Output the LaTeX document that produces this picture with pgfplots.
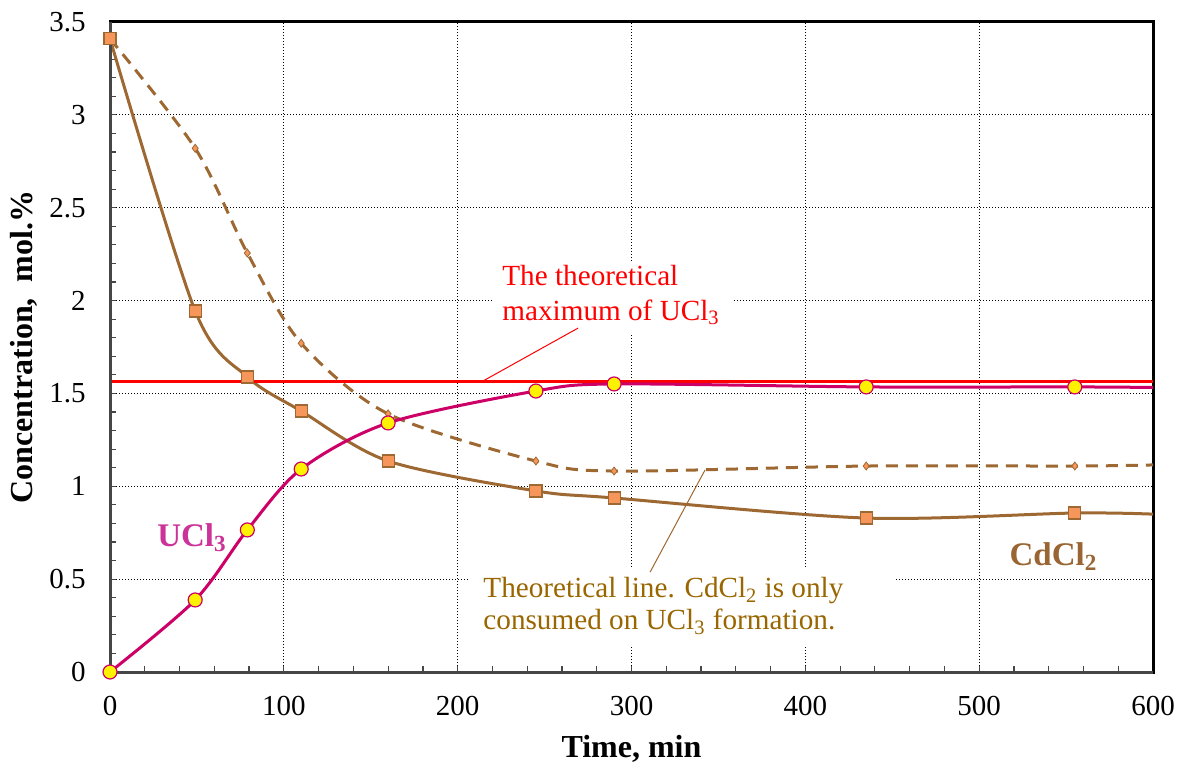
\documentclass[border=0pt]{standalone}
\usepackage{pgfplots}
\pgfplotsset{compat=1.18}
\usepackage{fontspec}
\setmainfont{Liberation Serif}
\definecolor{brn}{RGB}{158,104,50}
\definecolor{sqfill}{RGB}{247,150,90}
\definecolor{mag}{RGB}{204,0,102}
\definecolor{maglab}{RGB}{204,51,153}
\definecolor{gold}{RGB}{153,102,0}
\definecolor{cdlab}{RGB}{153,102,51}
\definecolor{axgray}{RGB}{70,70,70}
\begin{document}
\begin{tikzpicture}
\begin{axis}[
  width=521.5pt, height=325pt, scale only axis,
  xmin=0, xmax=600, ymin=0, ymax=3.5,
  xtick={0,100,...,600}, ytick={0,0.5,...,3.5},
  minor x tick num=4, minor y tick num=4,
  xtick pos=bottom, ytick pos=left,
  tick align=inside,
  major tick length=3pt, minor tick length=3pt,
  every tick/.style={axgray, line width=0.6pt},
  grid=major,
  major grid style={black, line width=0.5pt, dash pattern=on 0.6pt off 0.9pt},
  axis line style={black, line width=1.5pt},
  /pgf/number format/assume math mode=true,
  ticklabel style={font=\fontsize{14.5}{16}\selectfont},
  xticklabel style={yshift=-8.5pt},
  yticklabel style={xshift=-8.6pt},
  xlabel={Time, min},
  ylabel={Concentration,\ \ mol.\%},
  every axis x label/.style={at={([yshift=-42.5pt]rel axis cs:0.5,0)}, anchor=base,
    font=\fontsize{16}{18}\selectfont\bfseries},
  every axis y label/.style={at={([xshift=-38.5pt]rel axis cs:0,0.5)}, rotate=90, anchor=base,
    font=\fontsize{16}{18}\selectfont\bfseries},
  clip=false,
]
% dashed theoretical line
\addplot[brn, line width=1.5pt, dash pattern=on 6pt off 4pt, smooth, tension=0.5,
  mark=diamond*, mark indices={1,2,3,4,5,6,7,8,9},
  mark options={solid, fill=sqfill, draw=brn, line width=0.4pt, mark size=2pt}]
  coordinates {(0,3.41) (49,2.82) (79,2.256) (110,1.77) (160,1.39) (245,1.136) (290,1.082) (435,1.109) (555,1.109) (600,1.115)};
% CdCl2
\addplot[brn, line width=1.5pt, smooth, tension=0.5,
  mark=square*, mark indices={1,2,3,4,5,6,7,8,9},
  mark options={solid, fill=sqfill, draw=brn, line width=0.6pt, mark size=3pt}]
  coordinates {(0,3.41) (49,1.944) (79,1.589) (110,1.405) (160,1.136) (245,0.975) (290,0.937) (435,0.829) (555,0.856) (600,0.85)};
% theoretical maximum
\addplot[red, line width=1.5pt] coordinates {(0,1.562) (600,1.562)};
% UCl3
\addplot[mag, line width=1.5pt, smooth, tension=0.5,
  mark=*, mark indices={1,2,3,4,5,6,7,8,9},
  mark options={solid, fill=yellow, draw=mag, line width=0.6pt, mark size=3.5pt}]
  coordinates {(0,0) (49,0.388) (79,0.765) (110,1.093) (160,1.341) (245,1.513) (290,1.551) (435,1.535) (555,1.535) (600,1.532)};
% annotation boxes
\fill[white] (axis cs:219.8,2.208) rectangle (axis cs:358.5,1.826);
\fill[white] (axis cs:207.1,0.565) rectangle (axis cs:451.7,0.145);
\draw[red, line width=0.5pt] (axis cs:269.3,1.852) -- (axis cs:214.6,1.567);
\draw[brn, line width=0.5pt] (axis cs:310.7,0.538) -- (axis cs:342.3,1.088);
\node[anchor=north west, inner sep=0pt, align=left, text=red,
  font=\fontsize{14.6}{17.5}\selectfont] at (axis cs:225.5,2.195)
  {The theoretical\\maximum of UCl\textsubscript{3}};
\node[anchor=north west, inner sep=0pt, align=left, text=gold,
  font=\fontsize{14.6}{16}\selectfont] at (axis cs:214.6,0.51)
  {Theoretical line. CdCl\textsubscript{2} is only\\consumed on UCl\textsubscript{3} formation.};
\node[anchor=base west, inner sep=0pt, text=maglab,
  font=\fontsize{16.5}{18}\selectfont\bfseries] at (axis cs:27,0.678) {UCl\textsubscript{3}};
\node[anchor=base west, inner sep=0pt, text=cdlab,
  font=\fontsize{16.5}{18}\selectfont\bfseries] at (axis cs:517.3,0.576) {CdCl\textsubscript{2}};
% grey left and bottom axis lines
\draw[axgray, line width=1.5pt] (rel axis cs:0,1) -- (rel axis cs:0,0) -- (rel axis cs:1,0);
\end{axis}
\useasboundingbox ([shift={(-55pt,-45pt)}]current axis.south west) rectangle ([shift={(15pt,11pt)}]current axis.north east);
\end{tikzpicture}
\end{document}
